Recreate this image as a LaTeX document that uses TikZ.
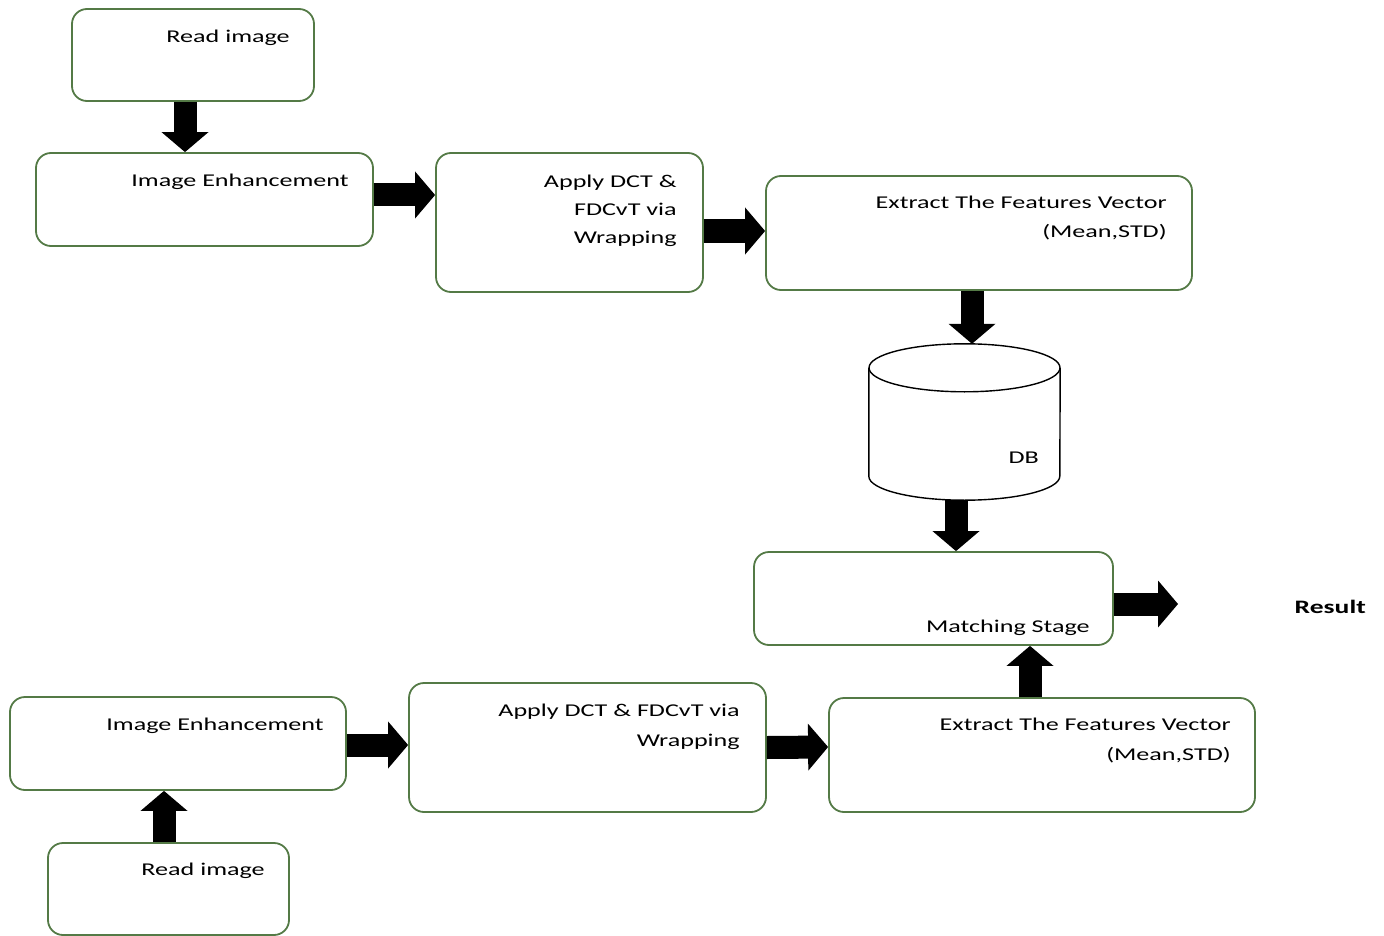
\documentclass[tikz,border=0pt]{standalone}
\usepackage{fontspec}
\setmainfont{Carlito}[FakeStretch=1.45]
\usetikzlibrary{arrows.meta}
\definecolor{boxgreen}{RGB}{84,122,70}
\tikzset{
  box/.style={draw=boxgreen, line width=1.8pt, rounded corners=15pt, fill=white, inner sep=0pt},
  txt/.style={anchor=base east, align=right, inner sep=0pt, font=\fontsize{18}{29}\selectfont},
  blk/.style={line width=23pt, draw=black, -{Triangle[length=20pt,width=47pt,line width=0pt]}},
  cyl/.style={draw=black, line width=1.4pt}
}
\begin{document}
\begin{tikzpicture}[x=1pt,y=-1pt]
\useasboundingbox[fill=white] (0,0) rectangle (1384,936);
% top row
\node[box, minimum width=242pt, minimum height=92pt] (r1) at (193,55) {};
\node[txt] at ([xshift=-25pt,yshift=-34pt]r1.north east) {Read image};
\node[box, minimum width=337pt, minimum height=93pt] (e1) at (204.5,199.5) {};
\node[txt] at ([xshift=-25pt,yshift=-34pt]e1.north east) {Image Enhancement};
\node[box, minimum width=267pt, minimum height=139pt] (d1) at (569.5,222.5) {};
\node[txt, font=\fontsize{18}{28}\selectfont] at ([xshift=-27pt,yshift=-91pt]d1.north east) {Apply DCT \&\\FDCvT via\\Wrapping};
\node[box, minimum width=426pt, minimum height=114pt] (f1) at (979,233) {};
\node[txt] at ([xshift=-26pt,yshift=-62pt]f1.north east) {Extract The Features Vector\\(Mean,STD)};
% database
\node[inner sep=0pt, minimum width=191pt, minimum height=156pt] (db) at (964.5,422) {};
\draw[cyl, fill=white] ([yshift=-24pt]db.north west) -- ([yshift=24pt]db.south west)
  arc[start angle=180, end angle=360, x radius=95.5pt, y radius=24pt]
  -- ([yshift=-24pt]db.north east);
\draw[cyl] ([yshift=-24pt]db.north) ellipse [x radius=95.5pt, y radius=24pt];
\node[txt] at (1039,463) {DB};
% matching
\node[box, minimum width=359pt, minimum height=93pt] (m) at (933.5,598.5) {};
\node[txt] at ([xshift=-24pt,yshift=-81pt]m.north east) {Matching Stage};
\coordinate (res) at (1178,604);
\node[anchor=base east, inner sep=0pt, font=\fontsize{19}{22}\selectfont\bfseries] (result) at (1366,613) {Result};
% bottom row
\node[box, minimum width=336pt, minimum height=93pt] (e2) at (178,743.5) {};
\node[txt] at ([xshift=-23pt,yshift=-34pt]e2.north east) {Image Enhancement};
\node[box, minimum width=357pt, minimum height=129pt] (d2) at (587.5,747.5) {};
\node[txt, font=\fontsize{18}{30}\selectfont] at ([xshift=-27pt,yshift=-64pt]d2.north east) {Apply DCT \& FDCvT via\\Wrapping};
\node[box, minimum width=426pt, minimum height=114pt] (f2) at (1042,755) {};
\node[txt, font=\fontsize{18}{30}\selectfont] at ([xshift=-25pt,yshift=-63pt]f2.north east) {Extract The Features Vector\\(Mean,STD)};
\node[box, minimum width=241pt, minimum height=92pt] (r2) at (168.5,889) {};
\node[txt] at ([xshift=-25pt,yshift=-33pt]r2.north east) {Read image};
% arrows
\draw[blk] ([xshift=-8pt]r1.south) -- ([xshift=-19.5pt]e1.north);
\draw[blk] ([yshift=4.5pt]e1.east) -- ([yshift=27.5pt]d1.west);
\draw[blk] ([yshift=-8.5pt]d1.east) -- ([yshift=2pt]f1.west);
\draw[blk] ([xshift=-7pt]f1.south) -- ([xshift=7.5pt]db.north);
\draw[blk] ([xshift=-8.5pt]db.south) -- ([xshift=22.5pt]m.north);
\draw[blk] ([yshift=-5.5pt]m.east) -- (res);
\draw[blk] ([xshift=-12pt]f2.north) -- ([xshift=96.5pt]m.south);
\draw[blk] ([yshift=-1.5pt]e2.east) -- ([yshift=2.5pt]d2.west);
\draw[blk] (d2.east) -- ([yshift=8pt]f2.west);
\draw[blk] ([xshift=-4.5pt]r2.north) -- ([xshift=-14pt]e2.south);
\end{tikzpicture}
\end{document}
